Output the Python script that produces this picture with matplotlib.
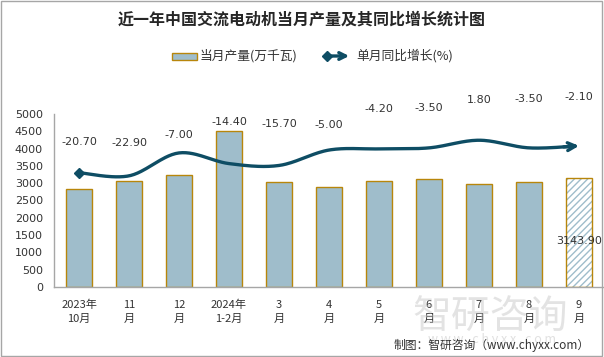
import numpy as np
import matplotlib
matplotlib.use("Agg")
import matplotlib.pyplot as plt
from matplotlib.patches import Rectangle

plt.rcParams['font.family'] = ['Noto Sans CJK SC', 'DejaVu Sans']

categories = ["2023年\n10月", "11\n月", "12\n月", "2024年\n1-2月", "3\n月", "4\n月",
              "5\n月", "6\n月", "7\n月", "8\n月", "9\n月"]
production = [2830, 3065, 3235, 4510, 3035, 2890, 3065, 3120, 2975, 3035, 3143.90]
growth = [-20.70, -22.90, -7.00, -14.40, -15.70, -5.00, -4.20, -3.50, 1.80, -3.50, -2.10]
label_offsets = [22, 24, 13, 30, 30, 18, 29, 29, 29, 35, 35]  # points above line

bar_color = '#9FBDCB'
edge_color = '#B8860B'
line_color = '#0E4D64'
text_color = '#333333'

plt.rcParams['hatch.color'] = bar_color

fig = plt.figure(figsize=(6.04, 3.57), dpi=100)
ax = fig.add_axes([54/604, 1-287/357, 550/604, 173/357])
x = np.arange(len(categories))

ax.bar(x[:-1], production[:-1], width=0.52, color=bar_color,
       edgecolor=edge_color, linewidth=1.0, zorder=2)
ax.bar(x[-1], production[-1], width=0.52, color='white', hatch='/////',
       edgecolor=bar_color, linewidth=0, zorder=2)
ax.bar(x[-1], production[-1], width=0.52, color='none',
       edgecolor=edge_color, linewidth=1.0, zorder=3)
ax.text(x[-1], production[-1]*0.42, f"{production[-1]:.2f}", ha='center', va='center',
        fontsize=8, color=text_color, family='DejaVu Sans', zorder=5)

ax.set_xlim(-0.5, len(categories)-0.5)
ax.set_ylim(0, 5000)
ax.set_yticks(np.arange(0, 5001, 500))
ax.set_xticks(x)
ax.set_xticklabels(categories, fontsize=8, color=text_color, linespacing=1.55)
ax.tick_params(axis='y', labelsize=8, colors=text_color, length=0, pad=8)
ax.tick_params(axis='x', length=0, pad=9)
for lab in ax.get_yticklabels():
    lab.set_family('DejaVu Sans')
for s in ['top', 'right']:
    ax.spines[s].set_visible(False)
for s in ['left', 'bottom']:
    ax.spines[s].set_color('#A6A6A6')
    ax.spines[s].set_linewidth(1.0)

ax2 = ax.twinx()
ax2.set_ylim(-100, 20)
ax2.set_xlim(-0.5, len(categories)-0.5)
ax2.axis('off')

# smooth curve (Bezier through the data points)
px = x.astype(float)
py = np.array(growth, dtype=float)
n = len(px)
cx, cy = [], []
t = np.linspace(0, 1, 30)
for i in range(n-1):
    p0 = np.array([px[i], py[i]])
    p3 = np.array([px[i+1], py[i+1]])
    pm = np.array([px[i-1], py[i-1]]) if i > 0 else p0
    pn = np.array([px[i+2], py[i+2]]) if i+2 < n else p3
    p1 = p0 + (p3 - pm)/6
    p2 = p3 - (pn - p0)/6
    b = ((1-t)**3)[:, None]*p0 + (3*(1-t)**2*t)[:, None]*p1 + (3*(1-t)*t**2)[:, None]*p2 + (t**3)[:, None]*p3
    cx.extend(b[:, 0]); cy.extend(b[:, 1])
cx = np.array(cx); cy = np.array(cy)
ax2.plot(cx[:-3], cy[:-3], color=line_color, lw=2.4, zorder=4, solid_capstyle='butt')
ax2.plot(px[0], py[0], marker='D', color=line_color, markersize=5, zorder=4)
ax2.annotate('', xy=(cx[-1], cy[-1]), xytext=(cx[-12], cy[-12]),
             arrowprops=dict(arrowstyle='->', lw=2.4, color=line_color,
                             mutation_scale=14, shrinkA=0, shrinkB=0))
for xi, yi, off in zip(px, py, label_offsets):
    ax2.annotate(f"{yi:.2f}", (xi, yi), xytext=(0, off), textcoords='offset points',
                 ha='center', va='center', fontsize=8, color=text_color,
                 family='DejaVu Sans')

# title
fig.text(0.5, 1-20/357, "近一年中国交流电动机当月产量及其同比增长统计图", ha='center', va='center',
         fontsize=11.5, fontweight='bold', color='#262626')

# legend (manual)
fig.patches.append(Rectangle((172/604, 1-60/357), 25/604, 7/357, transform=fig.transFigure,
                             facecolor=bar_color, edgecolor=edge_color, lw=1))
fig.text(200/604, 1-56/357, "当月产量(万千瓦)", ha='left', va='center', fontsize=9.2, color=text_color)
fig.lines.append(matplotlib.lines.Line2D([327/604], [1-56/357], transform=fig.transFigure,
                                         marker='D', markersize=5, color=line_color))
fig.patches.append(matplotlib.patches.FancyArrowPatch((327/604, 1-56/357), (352/604, 1-56/357),
                   transform=fig.transFigure, arrowstyle='->', lw=2.4, color=line_color,
                   mutation_scale=12))
fig.text(356/604, 1-56/357, "单月同比增长(%)", ha='left', va='center', fontsize=9.2, color=text_color)

# watermark
fig.text(490/604, 1-318/357, "智研咨询", ha='center', va='center', fontsize=28,
         color='#BBBBBB', alpha=0.4, zorder=0)
fig.text(492/604, 1-340/357, "w w w . c h y x x . c o m", ha='center', va='center', fontsize=9,
         color='#BBBBBB', alpha=0.45, zorder=0)

# source
fig.text(590/604, 1-345/357, "制图：智研咨询（www.chyxx.com）", ha='right', va='center',
         fontsize=8.5, color=text_color)

# border
fig.patches.append(Rectangle((0.002, 0.003), 0.994, 0.994, transform=fig.transFigure,
                             facecolor='none', edgecolor='#A6A6A6', lw=1))

fig.savefig("out.png", dpi=100)
